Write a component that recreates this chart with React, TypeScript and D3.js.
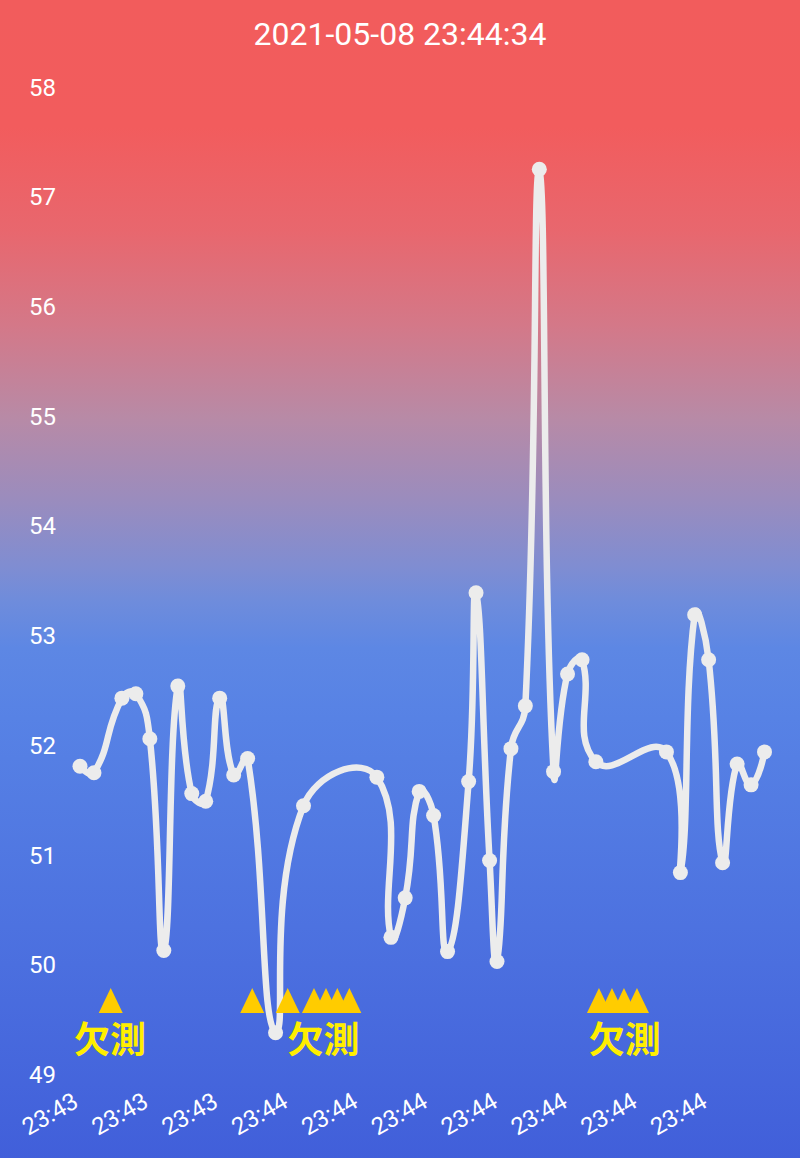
import React from 'react';
import * as d3 from 'd3';

// ---------- data ----------
const TITLE = '2021-05-08 23:44:34';
const START = new Date(2021, 4, 8, 23, 43, 45);
const END_OFFSET = 49; // seconds after START (23:44:34)

// seconds after START for each measurement
const offsets = [
  0, 1, 3, 4, 5, 6, 7, 8, 9, 10, 11, 12, 14, 16,
  21.25, 22.26, 23.28, 24.28, 25.31, 26.31,
  27.82, 28.35, 29.32, 29.85, 30.85, 31.88, 32.88, 33.9, 34.9, 35.94, 36.93,
  41.98, 42.98, 44, 45, 46, 47.04, 48.04, 49,
];
const values = [
  51.81, 51.75, 52.43, 52.47, 52.06, 50.13, 52.54, 51.56, 51.49, 52.43, 51.73, 51.88, 49.38, 51.45,
  51.71, 50.25, 50.61, 51.58, 51.36, 50.12,
  51.67, 53.39, 50.95, 50.03, 51.97, 52.36, 57.25, 51.76, 52.65, 52.78, 51.85,
  51.94, 50.84, 53.19, 52.78, 50.93, 51.83, 51.64, 51.94,
];
// missing-measurement markers (seconds after START)
const missingOffsets = [2.2, 12.33, 14.87, 16.75, 17.61, 18.42, 19.28, 37.15, 38.08, 38.94, 39.87];
const missingLabelOffsets = [2.14, 17.43, 39.0];
const MISSING_TEXT = '欠測';
const MISSING_MARK_VALUE = 49.56;
const MISSING_LABEL_VALUE = 49.34;

const yTicks = [49, 50, 51, 52, 53, 54, 55, 56, 57, 58];
const xTickOffsets = [0, 5, 10, 15, 20, 25, 30, 35, 40, 45];

// ---------- layout ----------
const W = 800;
const H = 1158;
const FONT = 'Roboto, "Noto Sans", sans-serif';
const LINE_COLOR = '#ececec';

const at = (s: number) => new Date(START.getTime() + s * 1000);

const x = d3.scaleTime().domain([START, at(END_OFFSET)]).range([80, 764.5]);
const y = d3.scaleLinear().domain([49, 58]).range([1074.5, 87]);
const fmt = d3.timeFormat('%H:%M');

type P = [number, number];

// ECharts-like smooth bezier (smooth = 0.5, with bounding-box constraint)
function smoothPath(pts: P[], smooth = 0.5): string {
  if (pts.length === 0) return '';
  const minX = d3.min(pts, (p) => p[0])!;
  const maxX = d3.max(pts, (p) => p[0])!;
  const minY = d3.min(pts, (p) => p[1])!;
  const maxY = d3.max(pts, (p) => p[1])!;
  const clamp = (p: P): P => [
    Math.max(minX, Math.min(maxX, p[0])),
    Math.max(minY, Math.min(maxY, p[1])),
  ];
  const dist = (a: P, b: P) => Math.hypot(a[0] - b[0], a[1] - b[1]);
  let d = `M${pts[0][0]},${pts[0][1]}`;
  let cp0: P = [pts[0][0], pts[0][1]];
  for (let i = 1; i < pts.length; i++) {
    const p = pts[i];
    const prev = pts[i - 1];
    const next = pts[i + 1];
    let cp1: P;
    let ratio = 0.5;
    let v: P = [0, 0];
    if (!next) {
      cp1 = [p[0], p[1]];
    } else {
      v = [next[0] - prev[0], next[1] - prev[1]];
      const lp = dist(p, prev);
      const ln = dist(p, next);
      ratio = ln + lp === 0 ? 0.5 : ln / (ln + lp);
      cp1 = [p[0] - v[0] * smooth * (1 - ratio), p[1] - v[1] * smooth * (1 - ratio)];
    }
    const c0 = clamp(cp0);
    const c1 = clamp(cp1);
    d += `C${c0[0]},${c0[1]},${c1[0]},${c1[1]},${p[0]},${p[1]}`;
    cp0 = [p[0] + v[0] * smooth * ratio, p[1] + v[1] * smooth * ratio];
  }
  return d;
}

export default function App() {
  const pts: P[] = offsets.map((o, i) => [x(at(o)), y(values[i])]);
  const triW = 24;
  const triH = 25;
  const triBase = y(MISSING_MARK_VALUE);

  return (
    <svg
      width={W}
      height={H}
      viewBox={`0 0 ${W} ${H}`}
      style={{ position: 'absolute', left: 0, top: 0, display: 'block' }}
    >
      <defs>
        <linearGradient id="bg" x1="0" y1="0" x2="0" y2={H} gradientUnits="userSpaceOnUse">
          <stop offset="0" stopColor="#f25c5c" />
          <stop offset="0.11" stopColor="#f25c5d" />
          <stop offset="0.2" stopColor="#e8676e" />
          <stop offset="0.28" stopColor="#d47888" />
          <stop offset="0.36" stopColor="#b88aa6" />
          <stop offset="0.43" stopColor="#9b8cbd" />
          <stop offset="0.49" stopColor="#7f8dd2" />
          <stop offset="0.52" stopColor="#6e8cdc" />
          <stop offset="0.56" stopColor="#5d87e4" />
          <stop offset="0.62" stopColor="#5782e5" />
          <stop offset="0.8" stopColor="#4d72e0" />
          <stop offset="1" stopColor="#415fda" />
        </linearGradient>
      </defs>
      <rect x={0} y={0} width={W} height={H} fill="url(#bg)" />

      <text
        x={400}
        y={45}
        textAnchor="middle"
        fill="#ffffff"
        fontFamily={FONT}
        fontSize={32}
      >
        {TITLE}
      </text>

      {yTicks.map((t) => (
        <text
          key={t}
          x={56}
          y={y(t)}
          dy="0.355em"
          textAnchor="end"
          fill="#ffffff"
          fontFamily={FONT}
          fontSize={24}
        >
          {t}
        </text>
      ))}

      {xTickOffsets.map((o) => {
        const tx = x(at(o));
        return (
          <text
            key={o}
            transform={`translate(${tx},1106) rotate(-30)`}
            textAnchor="end"
            fill="#ffffff"
            fontFamily={FONT}
            fontSize={24}
          >
            {fmt(at(o))}
          </text>
        );
      })}

      <path
        d={smoothPath(pts)}
        fill="none"
        stroke={LINE_COLOR}
        strokeWidth={6.5}
        strokeLinejoin="round"
        strokeLinecap="round"
      />
      {pts.map((p, i) => (
        <circle key={i} cx={p[0]} cy={p[1]} r={7.5} fill={LINE_COLOR} />
      ))}

      {missingOffsets.map((o, i) => {
        const cx = x(at(o));
        return (
          <path
            key={i}
            d={`M${cx - triW / 2},${triBase}L${cx},${triBase - triH}L${cx + triW / 2},${triBase}Z`}
            fill="#ffcc00"
          />
        );
      })}

      {missingLabelOffsets.map((o, i) => (
        <text
          key={i}
          x={x(at(o))}
          y={y(MISSING_LABEL_VALUE)}
          dominantBaseline="central"
          textAnchor="middle"
          fill="#ffee00"
          fontFamily='"Noto Sans CJK JP", "Noto Sans CJK SC", sans-serif'
          fontWeight="bold"
          fontSize={36}
        >
          {MISSING_TEXT}
        </text>
      ))}
    </svg>
  );
}
